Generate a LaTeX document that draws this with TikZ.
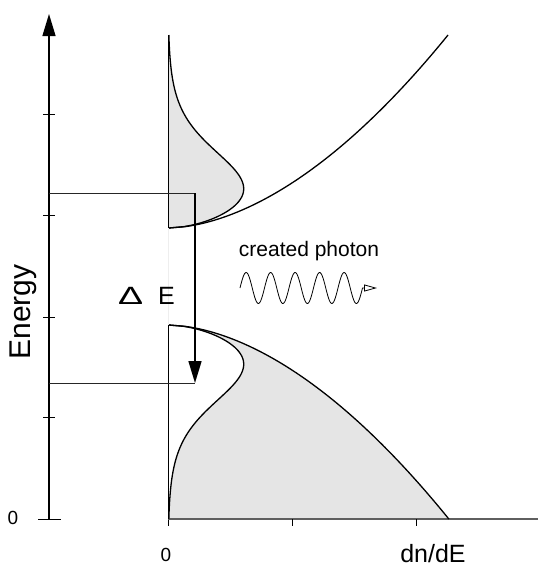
\documentclass[tikz,border=0pt]{standalone}
\usepackage{fontspec}
\setmainfont{Liberation Sans}
\usepackage{graphicx}
\usepackage{tikz}
\usetikzlibrary{arrows.meta,positioning,calc}
\definecolor{bandfill}{RGB}{229,229,229}
\definecolor{axisgray}{RGB}{95,95,95}
\definecolor{faintline}{RGB}{238,238,238}

\begin{document}
\begin{tikzpicture}[x=1pt,y=-1pt,every node/.style={inner sep=0pt},
  curve/.style={line width=1.3pt,line join=round},
  level/.style={line width=0.9pt,black!85},
  tickmark/.style={line width=0.8pt}]
\useasboundingbox (0,0) rectangle (538,568);
\coordinate (eorig) at (49,519);
\coordinate (etop) at (49,14);
\coordinate (ehi) at (49,193);
\coordinate (elo) at (49,383);
\coordinate (upper) at (195,193);
\coordinate (lower) at (195,383);
\coordinate (nbot) at (168,526);
\coordinate (ntop) at (168,35);
\coordinate (cband) at (168,228);
\coordinate (vband) at (168,325);
\coordinate (nend) at (538,519);
\coordinate (photonend) at (377,288);
\fill[bandfill] (cband) -- plot[domain=0.01:193,samples=150] ({168+14.7*pow(\x,0.56)/(1+exp((\x-55)/23.8))},{228-\x}) -- (ntop) -- cycle;
\fill[bandfill] (vband) -- plot[domain=0.01:194,samples=150] ({168+14.7*pow(\x,0.56)/(1+exp((\x-55)/23.8))},{325+\x}) -- (168,519) -- (449,519) -- plot[domain=194:0.01,samples=150] ({168+14.7*pow(\x,0.56)},{325+\x}) -- cycle;
\draw[line width=0.8pt] (ntop) -- (cband);
\draw[line width=0.8pt,faintline] (cband) -- (vband);
\draw[line width=0.8pt] (vband) -- (nbot);
\draw[line width=1.5pt,axisgray] (168,519) -- (nend);
\foreach \x in {292,416} \draw[tickmark] (\x,519) -- (\x,526);
\draw[curve] plot[domain=0.01:193,samples=150] ({168+14.7*pow(\x,0.56)},{228-\x});
\draw[curve] plot[domain=0.01:193,samples=150] ({168+14.7*pow(\x,0.56)/(1+exp((\x-55)/23.8))},{228-\x});
\draw[curve] plot[domain=0.01:194,samples=150] ({168+14.7*pow(\x,0.56)},{325+\x});
\draw[curve] plot[domain=0.01:194,samples=150] ({168+14.7*pow(\x,0.56)/(1+exp((\x-55)/23.8))},{325+\x});
\draw[line width=1.3pt,-{Triangle[length=22pt,width=13pt]}] (eorig) -- (etop);
\foreach \y in {114,215,317,417} \draw[tickmark] (43,\y) -- (55,\y);
\draw[tickmark] (38,519) -- (61,519);
\draw[level] (ehi) -- (upper);
\draw[level] (elo) -- (lower);
\draw[line width=1.6pt,-{Triangle[length=22pt,width=13pt]}] (upper) -- (lower);
\draw[line width=0.8pt,-{Triangle[open,length=13pt,width=7pt]}] plot[domain=0:122.5,samples=160] ({240+\x},{288-15.5*sin(\x/24.5*360)}) -- (photonend);
\node[font=\fontsize{19}{22}\selectfont] (ezero) at (13,518) {0};
\node[font=\fontsize{30}{34}\selectfont,rotate=90] (elabel) at (23,312) {Energy};
\node[font=\fontsize{25}{28}\selectfont] (gap) at (146.5,296) {\scalebox{1.5}[1]{Δ}\hspace{0.6em}E};
\node[font=\fontsize{21}{24}\selectfont] (photonlabel) at (309,251) {created photon};
\node[font=\fontsize{19}{22}\selectfont] (nzero) at (166,555) {0};
\node[font=\fontsize{25}{28}\selectfont] (nlabel) at (433,554) {dn/dE};
\end{tikzpicture}
\end{document}
